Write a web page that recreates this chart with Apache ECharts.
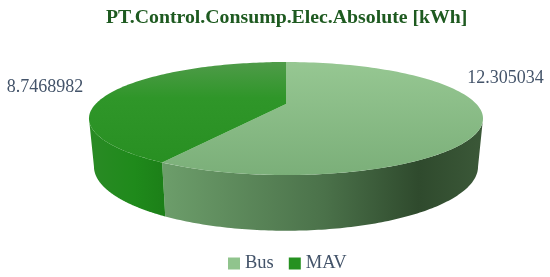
<!DOCTYPE html>
<html><head><meta charset="utf-8">
<style>html,body{margin:0;padding:0;background:#fff}#c{width:550px;height:277px}</style>
<script src="https://cdn.jsdelivr.net/npm/echarts@6/dist/echarts.min.js"></script>
</head><body><div id="c"></div>
<script>
const categories = ['Bus', 'MAV'];
const values = [12.305034, 8.7468982];
const valueLabels = ['12.305034', '8.7468982'];
const chartTitle = 'PT.Control.Consump.Elec.Absolute [kWh]';

const FONT = '"Liberation Serif", serif';
const labelAnchors = [[505.5, 78], [45, 87]];
const cx = 286, k = 0.257;
const topDisc = {R: 190.4, cy: 104, S: 52.8};
const botDisc = {R: 185.6, cy: 150, S: 60};
const faces = [
  {
    top: {type:'linear',global:true,x:0,y:62,x2:0,y2:175,colorStops:[{offset:0,color:'#96c792'},{offset:1,color:'#7baf79'}]},
    side:{type:'linear',global:true,x:165,y:0,x2:482,y2:0,colorStops:[{offset:0,color:'#6c9d6a'},{offset:0.5,color:'#4b724a'},{offset:0.8,color:'#2f4a2d'},{offset:1,color:'#3b5838'}]},
    legend:'#90c48d'
  },
  {
    top: {type:'linear',global:true,x:0,y:62,x2:0,y2:165,colorStops:[{offset:0,color:'#4f9b49'},{offset:0.35,color:'#2f9629'},{offset:1,color:'#288f22'}]},
    side:{type:'linear',global:true,x:89,y:0,x2:165,y2:0,colorStops:[{offset:0,color:'#2a8a25'},{offset:0.6,color:'#1f8a1b'},{offset:1,color:'#1c7f18'}]},
    legend:'#259120'
  }
];
const total = values.reduce((a, b) => a + b, 0);
// The wall is only visible between the two silhouette angles of the perspective disc.
const frontStart = Math.acos(-k), frontEnd = 2 * Math.PI - frontStart;

function project(d, t) {
  const u = Math.sin(t), v = -Math.cos(t), w = 1 - k * v;
  return [cx + d.R * u / w, d.cy + d.S * v / w];
}
function arc(d, a, b) {
  const pts = [], n = 120;
  for (let i = 0; i <= n; i++) pts.push(project(d, a + (b - a) * i / n));
  return pts;
}
function sliceItem(index) {
  return function () {
    let before = 0;
    for (let i = 0; i < index; i++) before += values[i];
    const a = before / total * 2 * Math.PI;
    const b = (before + values[index]) / total * 2 * Math.PI;
    const f = faces[index];
    const sa = Math.max(a, frontStart), sb = Math.min(b, frontEnd);
    const wall = arc(topDisc, sa, sb).concat(arc(botDisc, sa, sb).reverse());
    return {type:'group', children:[
      {type:'polygon', z2:1, shape:{points:wall}, style:{fill:f.side}},
      {type:'polygon', z2:5, shape:{points:[[cx, topDisc.cy]].concat(arc(topDisc, a, b))}, style:{fill:f.top}},
      {type:'text', z2:9, x:labelAnchors[index][0], y:labelAnchors[index][1],
        style:{text:valueLabels[index], fill:'#44546a', font:'18px '+FONT, align:'center', verticalAlign:'middle'}}
    ]};
  };
}
const chart = echarts.init(document.getElementById('c'), null, {renderer:'canvas'});
chart.setOption({
  animation:false,
  backgroundColor:'#fff',
  title:{text:chartTitle,left:101,top:3,textStyle:{fontFamily:FONT,fontSize:19.8,fontWeight:'bold',color:'#1e5a20'}},
  legend:{data:categories,left:228,top:254,padding:0,icon:'rect',itemWidth:12,itemHeight:12,itemGap:15,
    textStyle:{fontFamily:FONT,fontSize:18.5,color:'#44546a'}},
  series:categories.map((name,i)=>({
    type:'custom',name,coordinateSystem:'none',data:[values[i]],
    itemStyle:{color:faces[i].legend},renderItem:sliceItem(i),silent:true
  }))
});
</script></body></html>
